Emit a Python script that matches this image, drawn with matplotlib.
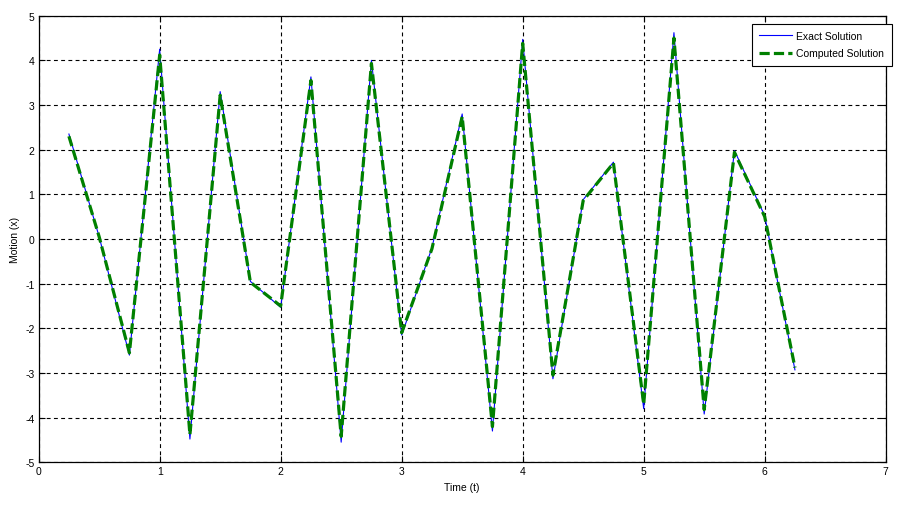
import numpy as np
import matplotlib
matplotlib.use("Agg")
import matplotlib.pyplot as plt

# ===================== DATA =====================
t = [0.25, 0.5, 0.75, 1.0, 1.25, 1.5, 1.75, 2.0, 2.25, 2.5, 2.75, 3.0, 3.25,
     3.5, 3.75, 4.0, 4.25, 4.5, 4.75, 5.0, 5.25, 5.5, 5.75, 6.0, 6.25]
x_exact = [2.35, 0.05, -2.6, 4.25, -4.48, 3.3, -0.95, -1.53, 3.63, -4.55, 4.0,
           -2.15, -0.2, 2.8, -4.3, 4.47, -3.13, 0.88, 1.72, -3.8, 4.62, -3.92,
           1.98, 0.52, -2.93]
x_computed = [2.3, 0.05, -2.55, 4.12, -4.38, 3.22, -0.97, -1.5, 3.55, -4.42, 3.93,
              -2.1, -0.22, 2.74, -4.2, 4.38, -3.05, 0.86, 1.7, -3.7, 4.5, -3.82,
              1.94, 0.5, -2.88]

x_ticks = [0, 1, 2, 3, 4, 5, 6, 7]
y_ticks = [-5, -4, -3, -2, -1, 0, 1, 2, 3, 4, 5]

# ===================== PLOT =====================
plt.rcParams['font.family'] = ['Liberation Sans', 'DejaVu Sans']
plt.rcParams['axes.unicode_minus'] = False   # plain hyphen like MATLAB

fig = plt.figure(figsize=(8.97, 5.06), dpi=100)
ax = fig.add_axes([0.0431, 0.0844, 0.9443, 0.8826])

ax.plot(t, x_exact, color='#0000ff', lw=0.8, label='Exact Solution', zorder=3)
ax.plot(t, x_computed, color='#008000', lw=2.3, dashes=(3.2, 1.3),
        label='Computed Solution', zorder=4)

ax.set_xlim(0, 7)
ax.set_ylim(-5, 5)
ax.set_xticks(x_ticks)
ax.set_yticks(y_ticks)

# MATLAB-like look: ticks inside on all sides, dashed black grid
ax.tick_params(direction='in', length=4, width=0.8, labelsize=7.5,
               top=True, right=True, pad=3)
ax.grid(True, color='black', linestyle=(0, (3.5, 3)), linewidth=0.8)
for s in ax.spines.values():
    s.set_linewidth(0.9)

ax.set_xlabel('Time (t)', fontsize=7.5, labelpad=4)
ax.set_ylabel('Motion (x)', fontsize=7.5, labelpad=4)

leg = ax.legend(loc='upper right', bbox_to_anchor=(1.007, 0.982),
                fontsize=7.5, handlelength=3.2, fancybox=False,
                framealpha=1, edgecolor='black', borderaxespad=0,
                borderpad=0.7, labelspacing=0.7, handletextpad=0.4)
leg.get_frame().set_linewidth(0.8)

fig.savefig('out.png', dpi=100)
